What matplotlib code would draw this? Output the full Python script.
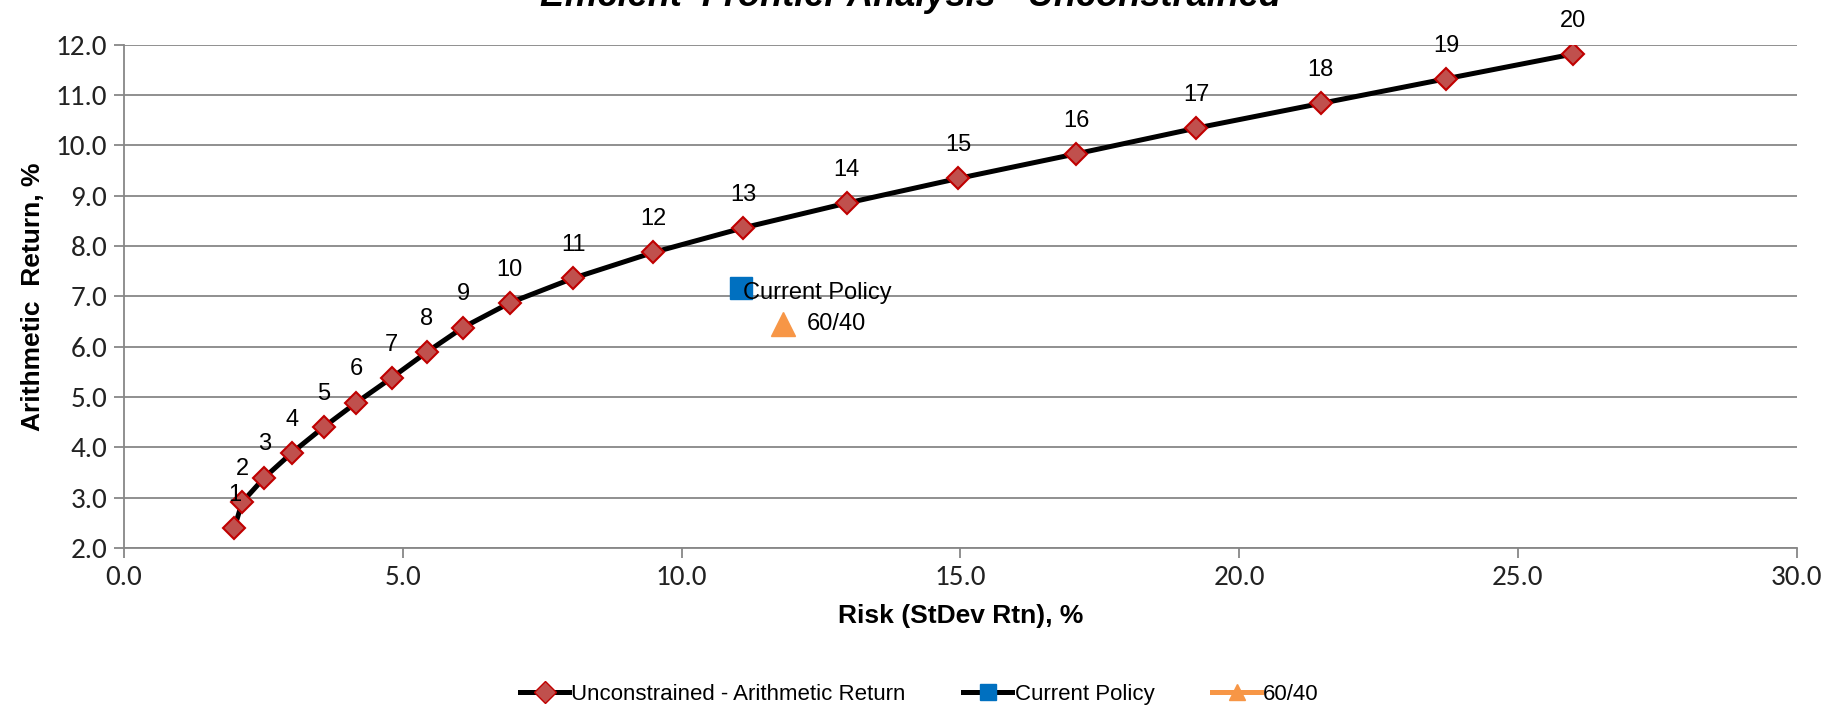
import matplotlib
matplotlib.use("Agg")
import matplotlib.pyplot as plt
from matplotlib.lines import Line2D

# frontier portfolios: risk (stdev %) and arithmetic return (%)
point_ids = [str(i) for i in range(1, 21)]
risk = [1.98, 2.12, 2.52, 3.01, 3.58, 4.17, 4.80, 5.43, 6.08, 6.92,
        8.06, 9.49, 11.11, 12.96, 14.96, 17.08, 19.23, 21.46, 23.71, 25.98]
ret = [2.40, 2.91, 3.40, 3.89, 4.40, 4.89, 5.38, 5.89, 6.38, 6.87,
       7.36, 7.87, 8.36, 8.85, 9.34, 9.83, 10.34, 10.83, 11.32, 11.81]

policy_risk, policy_ret = 11.07, 7.17
mix_risk, mix_ret = 11.82, 6.45

narrow = ['Liberation Sans Narrow', 'Liberation Sans', 'DejaVu Sans']
tickfont = ['Carlito', 'Open Sans', 'DejaVu Sans']

fig = plt.figure(figsize=(18.39, 7.13), dpi=100)
ax = fig.add_axes([0.0674, 0.2314, 0.9096, 0.7061])

ax.plot(risk, ret, color='black', lw=3.6, zorder=3,
        marker='D', ms=11, mfc='#C0504D', mec='#C00000', mew=1.5)
for lab, x, y in zip(point_ids, risk, ret):
    ax.annotate(lab, (x, y), xytext=(0, 16), textcoords='offset points',
                ha='center', va='bottom', fontsize=17, family=narrow)

ax.plot([policy_risk], [policy_ret], marker='s', ms=16, color='#0070C0', ls='none', zorder=4)
ax.annotate('Current Policy', (policy_risk, policy_ret), xytext=(1, -4), textcoords='offset points',
            ha='left', va='center', fontsize=17, family=narrow, zorder=5)
ax.plot([mix_risk], [mix_ret], marker='^', ms=17, color='#F79646', ls='none', zorder=4)
ax.annotate('60/40', (mix_risk, mix_ret), xytext=(17, 0), textcoords='offset points',
            ha='left', va='center', fontsize=17, family=narrow)

ax.set_xlim(0, 30)
ax.set_ylim(2, 12)
ax.set_xticks(range(0, 31, 5))
ax.set_xticklabels([f"{v:.1f}" for v in range(0, 31, 5)])
ax.set_yticks(range(2, 13))
ax.set_yticklabels([f"{v:.1f}" for v in range(2, 13)])
for t in ax.get_xticklabels() + ax.get_yticklabels():
    t.set_family(tickfont)
    t.set_fontsize(21)
    t.set_color('#222222')
ax.tick_params(axis='both', length=7, width=1.3, color='#878787', pad=5)
ax.yaxis.grid(True, color='#878787', lw=1.3)
ax.set_axisbelow(True)
for s in ['top', 'right']:
    ax.spines[s].set_visible(False)
for s in ['left', 'bottom']:
    ax.spines[s].set_color('#878787')
    ax.spines[s].set_linewidth(1.3)

ax.set_xlabel('Risk (StDev Rtn), %', fontsize=19, fontweight='bold', family=narrow, labelpad=10)
ax.set_ylabel('Arithmetic  Return, %', fontsize=19, fontweight='bold', family=narrow, labelpad=8)

fig.text(0.495, 1.005, 'Efficient  Frontier Analysis - Unconstrained', ha='center', va='center',
         fontsize=26, fontweight='bold', style='italic', family=narrow)

handles = [
    Line2D([], [], color='black', lw=3.6, marker='D', ms=11, mfc='#C0504D', mec='#C00000'),
    Line2D([], [], color='black', lw=3.6, marker='s', ms=11, mfc='#0070C0', mec='#0070C0'),
    Line2D([], [], color='#F79646', lw=3.6, marker='^', ms=12, mfc='#F79646', mec='#F79646'),
]
fig.legend(handles, ['Unconstrained - Arithmetic Return', 'Current Policy', '60/40'],
           loc='center', bbox_to_anchor=(0.5, 0.026), ncol=3, frameon=False,
           prop={'family': narrow, 'size': 16}, handlelength=2.2, handletextpad=0.1,
           columnspacing=2.6)

fig.savefig('out.png', dpi=100)
